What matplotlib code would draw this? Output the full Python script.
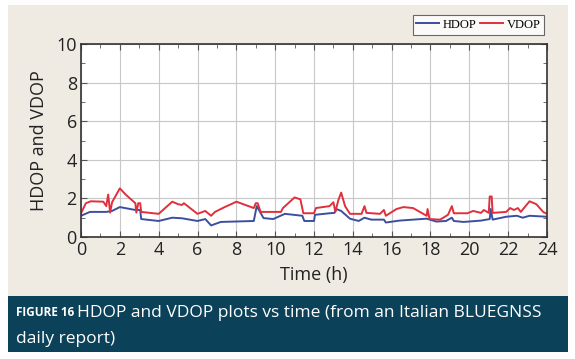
import numpy as np
import matplotlib
matplotlib.use("Agg")
import matplotlib.pyplot as plt
from matplotlib.patches import Rectangle
from matplotlib.ticker import MultipleLocator

# ---- data ----
vdop_t = [0.0, 0.25, 0.5, 1.15, 1.3, 1.4, 1.5, 1.6, 2.0, 2.3, 2.8, 2.85, 2.95, 3.05, 3.1,
          4.0, 4.7, 5.0, 5.2, 5.3, 6.0, 6.4, 6.7, 6.9, 7.4, 7.84, 8.0, 8.9, 9.0, 9.1,
          9.25, 10.3, 10.4, 11.0, 11.3, 11.45, 12.0, 12.1, 12.8, 13.0, 13.1, 13.25, 13.4,
          13.6, 13.85, 14.45, 14.6, 14.7, 15.4, 15.6, 15.7, 16.25, 16.6, 17.1, 17.8, 17.85,
          17.95, 18.5, 18.9, 19.1, 19.2, 19.9, 20.2, 20.6, 20.75, 21.0, 21.05, 21.15, 21.2,
          21.9, 22.1, 22.3, 22.5, 22.65, 23.1, 23.45, 23.8, 24.0]
vdop = [1.23, 1.75, 1.85, 1.83, 1.6, 2.2, 1.26, 1.8, 2.52, 2.2, 1.75, 1.26, 1.75, 1.75, 1.3,
        1.2, 1.83, 1.7, 1.66, 1.75, 1.2, 1.35, 1.1, 1.3, 1.55, 1.75, 1.83, 1.5, 1.75, 1.75,
        1.3, 1.3, 1.5, 2.05, 1.95, 1.23, 1.23, 1.5, 1.6, 1.8, 1.3, 1.9, 2.3,
        1.6, 1.2, 1.2, 1.6, 1.25, 1.2, 1.4, 1.1, 1.45, 1.55, 1.5, 1.1, 1.45,
        0.93, 0.9, 1.15, 1.6, 1.23, 1.23, 1.35, 1.25, 1.4, 1.25, 2.1, 2.1, 1.25,
        1.3, 1.5, 1.4, 1.5, 1.3, 1.85, 1.7, 1.3, 1.2]

hdop_t = [0.0, 0.46, 1.3, 1.6, 2.0, 2.8, 3.05, 3.1, 4.0, 4.7, 5.2, 6.0, 6.4, 6.7, 7.2,
          8.9, 9.05, 9.4, 9.9, 10.5, 11.4, 11.5, 12.0, 12.05, 12.8, 13.05, 13.15, 13.4,
          13.85, 14.3, 14.6, 14.95, 15.6, 15.7, 16.4, 17.8, 18.3, 18.8, 19.1, 19.2, 19.7,
          20.6, 21.05, 21.1, 21.2, 21.9, 22.45, 22.75, 23.1, 24.0]
hdop = [1.1, 1.3, 1.3, 1.35, 1.55, 1.4, 1.4, 0.93, 0.83, 1.0, 0.97, 0.83, 0.93, 0.6, 0.78,
        0.83, 1.6, 0.98, 0.93, 1.2, 1.1, 0.83, 0.83, 1.15, 1.23, 1.25, 1.45, 1.35,
        0.95, 0.83, 1.0, 0.9, 0.9, 0.75, 0.85, 0.95, 0.8, 0.83, 1.0, 0.83, 0.78,
        0.85, 0.93, 1.45, 0.9, 1.05, 1.1, 1.0, 1.1, 1.05]

x_ticks = list(range(0, 25, 2))
y_ticks = list(range(0, 11, 2))

BEIGE = "#efebe3"
TEAL = "#0b4259"
BLUE = "#3c4f9e"
RED = "#e0303c"

plt.rcParams['font.family'] = ['Open Sans', 'DejaVu Sans']

fig = plt.figure(figsize=(5.75, 3.59), dpi=100, facecolor="white")
W, H = 575, 359

def fx(px):
    return px / W

def fy(py):
    return 1 - py / H

# background panels
fig.add_artist(Rectangle((fx(8), fy(296)), fx(568) - fx(8), fy(5) - fy(296),
                         transform=fig.transFigure, facecolor=BEIGE, edgecolor="none", zorder=0))
fig.add_artist(Rectangle((fx(8), fy(352)), fx(568) - fx(8), fy(296) - fy(352),
                         transform=fig.transFigure, facecolor=TEAL, edgecolor="none", zorder=0))

ax = fig.add_axes([fx(81), fy(237), fx(547) - fx(81), fy(44) - fy(237)])
ax.set_facecolor("white")

ax.plot(hdop_t, hdop, color=BLUE, lw=1.4, label="HDOP")
ax.plot(vdop_t, vdop, color=RED, lw=1.4, label="VDOP")

ax.set_xlim(0, 24)
ax.set_ylim(0, 10)
ax.set_xticks(x_ticks)
ax.set_yticks(y_ticks)
ax.xaxis.set_minor_locator(MultipleLocator(1))
ax.yaxis.set_minor_locator(MultipleLocator(1))
ax.grid(True, which="major", color="#c8c8c8", lw=0.8)
ax.tick_params(which="both", direction="in", top=True, right=True, color="#555555",
               labelsize=13, labelcolor="#222222", pad=3)
ax.tick_params(which="major", length=4)
ax.tick_params(which="minor", length=3)
for s in ax.spines.values():
    s.set_color("#333333")
    s.set_linewidth(1.2)

ax.set_xlabel("Time (h)", fontsize=13, color="#222222", labelpad=5)
ax.set_ylabel("HDOP and VDOP", fontsize=13, color="#222222", labelpad=6)

leg = fig.legend(loc="upper right", bbox_to_anchor=(fx(544), fy(15)), ncol=2,
                 prop={"family": "Liberation Serif", "size": 9}, frameon=True,
                 fancybox=False, edgecolor="#444444", handlelength=1.8, handletextpad=0.3,
                 columnspacing=0.3, borderpad=0.3, borderaxespad=0)
leg.get_frame().set_linewidth(0.8)

# caption
fig.text(fx(16), fy(313), "FIGURE 16", color="white", fontsize=8.5, fontweight="bold",
         va="center", ha="left")
fig.text(fx(77), fy(313), "HDOP and VDOP plots vs time (from an Italian BLUEGNSS",
         color="white", fontsize=12.5, va="center", ha="left")
fig.text(fx(16), fy(339), "daily report)", color="white", fontsize=12.5, va="center", ha="left")

fig.savefig("out.png", dpi=100, facecolor="white")
